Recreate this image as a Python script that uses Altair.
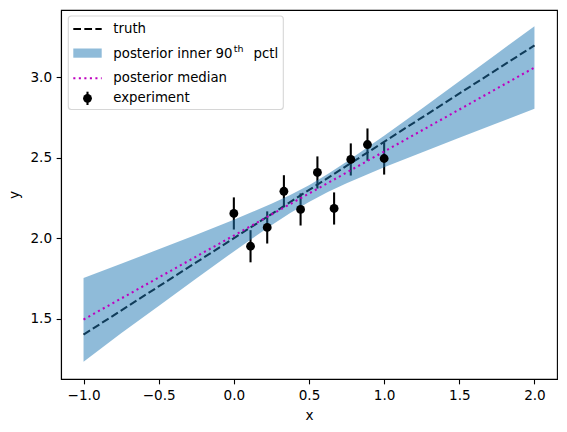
import altair as alt
import pandas as pd

# experiment points
x_pts = [0.0, 0.111, 0.222, 0.333, 0.444, 0.556, 0.667, 0.778, 0.889, 1.0]
y_pts = [2.154, 1.950, 2.067, 2.292, 2.179, 2.409, 2.185, 2.490, 2.583, 2.496]
err_pts = [0.1, 0.1, 0.1, 0.1, 0.1, 0.1, 0.1, 0.1, 0.1, 0.1]

# posterior band (inner 90th percentile)
band_x = [-1.0, -0.75, -0.5, -0.25, 0.0, 0.125, 0.25, 0.375, 0.5, 0.625, 0.75, 0.875, 1.0, 1.25, 1.5, 1.75, 2.0]
band_lo = [1.232, 1.408, 1.579, 1.750, 1.918, 2.000, 2.081, 2.157, 2.226, 2.287, 2.342, 2.392, 2.441, 2.534, 2.625, 2.715, 2.805]
band_hi = [1.752, 1.841, 1.931, 2.022, 2.115, 2.164, 2.214, 2.269, 2.330, 2.400, 2.476, 2.556, 2.638, 2.806, 2.977, 3.148, 3.319]

# lines
line_x = [-1.0, 2.0]
truth_y = [1.4, 3.2]
median_y = [1.494, 3.062]

x_ticks = [-1.0, -0.5, 0.0, 0.5, 1.0, 1.5, 2.0]
y_ticks = [1.5, 2.0, 2.5, 3.0]

pts = pd.DataFrame({"x": x_pts, "y": y_pts, "err": err_pts})
pts["lo"] = pts["y"] - pts["err"]
pts["hi"] = pts["y"] + pts["err"]
band = pd.DataFrame({"x": band_x, "lo": band_lo, "hi": band_hi})
lines = pd.DataFrame({"x": line_x, "truth": truth_y, "median": median_y})

FS = 13.6
LFS = 13.3
LW = 2.08
DASH = [7.7, 3.33]
DOT = [2.08, 3.44]

xscale = alt.Scale(domain=[-1.15, 2.15], nice=False, zero=False)
yscale = alt.Scale(domain=[1.124, 3.42], nice=False, zero=False)
common = dict(grid=False, tickSize=4.86, labelPadding=4.6, format=".1f",
              domainColor="black", tickColor="black", labelColor="black",
              domainWidth=1.1, tickWidth=1.1,
              labelFontSize=FS, titleFontSize=FS, titleFontWeight="normal",
              titleColor="black", labelFlush=False, labelFont="DejaVu Sans",
              titleFont="DejaVu Sans")
xaxis = alt.Axis(values=x_ticks, titlePadding=6, **common)
yaxis = alt.Axis(values=y_ticks, titlePadding=8, **common)


def X(f="x"):
    return alt.X(f"{f}:Q", scale=xscale, axis=xaxis, title="x")


def Y(f):
    return alt.Y(f"{f}:Q", scale=yscale, axis=yaxis, title="y")


truth = alt.Chart(lines).mark_line(color="black", strokeDash=DASH, strokeWidth=LW,
                                    strokeCap="butt").encode(x=X(), y=Y("truth"))
errs = alt.Chart(pts).mark_rule(color="black", strokeWidth=LW).encode(
    x=X(), y=Y("lo"), y2="hi:Q")
area = alt.Chart(band).mark_area(color="#1f77b4", opacity=0.5).encode(
    x=X(), y=Y("lo"), y2="hi:Q")
median = alt.Chart(lines).mark_line(color="#bf00bf", strokeDash=DOT, strokeWidth=LW,
                                     strokeCap="butt").encode(x=X(), y=Y("median"))
dots = alt.Chart(pts).mark_circle(color="black", opacity=1, size=78).encode(x=X(), y=Y("y"))

# manual legend
one = alt.Data(values=[{}])
leg_box = alt.Chart(one).mark_rect(fill="white", fillOpacity=0.8, stroke="#cccccc",
                                   strokeOpacity=0.8, strokeWidth=1.1, cornerRadius=3).encode(
    x=alt.value(7.3), x2=alt.value(222.3), y=alt.value(6), y2=alt.value(99.5))
leg_truth = alt.Chart(one).mark_rule(color="black", strokeDash=DASH, strokeWidth=LW).encode(
    x=alt.value(12.3), x2=alt.value(40.7), y=alt.value(19))
leg_patch = alt.Chart(one).mark_rect(color="#1f77b4", opacity=0.5).encode(
    x=alt.value(12.3), x2=alt.value(40.7), y=alt.value(38.5), y2=alt.value(47.7))
leg_med = alt.Chart(one).mark_rule(color="#bf00bf", strokeDash=DOT, strokeWidth=LW).encode(
    x=alt.value(12.3), x2=alt.value(40.7), y=alt.value(68.3))
leg_err = alt.Chart(one).mark_rule(color="black", strokeWidth=LW).encode(
    x=alt.value(26.5), y=alt.value(81.7), y2=alt.value(95))
leg_dot = alt.Chart(one).mark_point(filled=True, color="black", opacity=1, size=78, shape="circle").encode(
    x=alt.value(26.5), y=alt.value(88.3))


def txt(s, x, y, size=LFS):
    return alt.Chart(one).mark_text(text=s, align="left", baseline="middle", fontSize=size,
                                    font="DejaVu Sans", color="black").encode(
        x=alt.value(x), y=alt.value(y))


legend = [leg_box, leg_truth, leg_patch, leg_med, leg_err, leg_dot,
          txt("truth", 52.3, 19),
          txt("posterior inner 90", 52.3, 43.5),
          txt("th", 172.8, 39.0, 9.5),
          txt("pctl", 192.5, 43.5),
          txt("posterior median", 52.3, 68.3),
          txt("experiment", 52.3, 88.3)]

chart = alt.layer(truth, errs, area, median, dots, *legend).properties(
    width=496, height=369,
    padding={"left": 61, "top": 10, "right": 10, "bottom": 53},
    autosize=alt.AutoSizeParams(type="none"),
).configure(font="DejaVu Sans").configure_view(stroke="black", strokeWidth=1.1)

chart.save("out.html", embed_options={"renderer": "svg", "actions": False})
